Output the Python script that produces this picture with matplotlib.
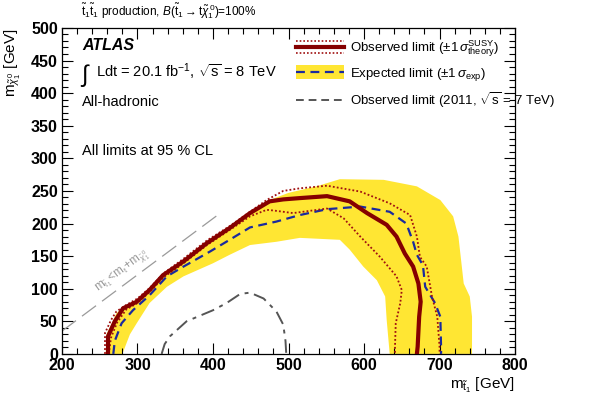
import matplotlib
matplotlib.use("Agg")
import matplotlib.pyplot as plt
from matplotlib.lines import Line2D
from matplotlib.patches import Rectangle
from matplotlib.legend_handler import HandlerBase
from matplotlib.ticker import MultipleLocator

plt.rcParams['font.family'] = ['Liberation Sans', 'DejaVu Sans']
plt.rcParams['mathtext.fontset'] = 'custom'
plt.rcParams['mathtext.rm'] = 'Liberation Sans'
plt.rcParams['mathtext.it'] = 'Liberation Sans:italic'
plt.rcParams['mathtext.bf'] = 'Liberation Sans:bold'

# ---------------- data ----------------
band_outer_x = [258, 259, 272, 282, 300, 317, 335, 361, 392, 422, 449, 475, 500, 537, 568,
                626, 670, 701, 718, 725, 729, 732, 740, 743, 743]
band_outer_y = [0, 30, 62, 73, 84, 103, 124, 145, 173, 196, 219, 236, 247, 257, 268,
                267, 257, 236, 211, 180, 139, 108, 88, 57, 0]
band_inner_x = [280, 290, 299, 316, 339, 361, 400, 422, 449, 484, 515, 568, 581, 599, 617,
                628, 630, 634]
band_inner_y = [0, 30, 47, 78, 103, 119, 139, 152, 167, 172, 178, 175, 160, 134, 113,
                88, 52, 0]

obs_x = [261, 261, 270, 281, 299, 316, 334, 361, 392, 422, 449, 475, 493, 515, 551, 581,
         604, 630, 643, 654, 665, 672, 675, 673, 671, 670]
obs_y = [0, 27, 50, 70, 80, 98, 121, 142, 170, 193, 216, 234, 237, 239, 242, 234,
         216, 198, 180, 154, 134, 108, 80, 57, 11, 0]

exp_x = [268, 270, 279, 294, 316, 339, 361, 396, 422, 449, 484, 515, 551, 595, 634, 656,
         665, 670, 678, 681, 694, 701, 702, 702]
exp_y = [0, 20, 47, 67, 90, 119, 134, 157, 175, 194, 203, 213, 222, 226, 218, 200,
         172, 152, 136, 103, 78, 57, 11, 0]

obs_up_x = [257, 257, 265, 272, 285, 300, 316, 335, 361, 392, 422, 449, 471, 493, 515, 551,
            595, 634, 661, 670, 674, 683, 690, 697, 700, 700]
obs_up_y = [0, 32, 52, 65, 75, 85, 101, 124, 146, 174, 196, 218, 236, 250, 254, 258,
            249, 231, 213, 180, 149, 134, 88, 57, 11, 0]

obs_dn_x = [262, 265, 273, 285, 300, 316, 335, 361, 392, 422, 449, 471, 480, 506, 551, 573,
            595, 621, 643, 650, 648, 642, 641, 641]
obs_dn_y = [0, 25, 48, 68, 78, 95, 118, 139, 167, 190, 211, 221, 220, 216, 223, 208,
            180, 149, 119, 98, 78, 47, 11, 0]

old_x = [332, 336, 343, 365, 400, 418, 436, 449, 467, 484, 493, 496, 497]
old_y = [0, 15, 27, 50, 67, 78, 92, 94, 85, 65, 45, 20, 0]

kin_x = [200, 412]
kin_y = [35, 218]

xticks = [200, 300, 400, 500, 600, 700, 800]
yticks = [0, 50, 100, 150, 200, 250, 300, 350, 400, 450, 500]

# ---------------- colours ----------------
c_obs = '#850000'
c_dot = '#A01010'
c_yel = '#FFE633'
c_blue = '#1A2A9E'
c_old = '#555555'
c_kin = '#9A9A9A'

CHI = r'{{\tilde{\chi}}^{\,0}_{1}}'

fig = plt.figure(figsize=(5.90, 3.99), dpi=100)
ax = fig.add_axes([0.105, 0.113, 0.768, 0.817])

ax.fill(band_outer_x + band_inner_x[::-1], band_outer_y + band_inner_y[::-1],
        color=c_yel, lw=0, zorder=1)
ax.plot(exp_x, exp_y, color=c_blue, lw=1.6, ls=(0, (4, 2.5)), zorder=3)
ax.plot(obs_up_x, obs_up_y, color=c_dot, lw=1.3, ls=(0, (1, 1.2)), zorder=4)
ax.plot(obs_dn_x, obs_dn_y, color=c_dot, lw=1.3, ls=(0, (1, 1.2)), zorder=4)
ax.plot(obs_x, obs_y, color=c_obs, lw=3.0, zorder=5)
ax.plot(old_x, old_y, color=c_old, lw=1.4, ls=(0, (7, 3, 2, 3)), zorder=2)
ax.plot(kin_x, kin_y, color=c_kin, lw=0.9, ls=(0, (14, 6)), zorder=2)

ax.text(281, 127, r'$\mathrm{m}_{\tilde{\mathrm{t}}_1}\!<\!\mathrm{m}_\mathrm{t}\!+\!\mathrm{m}_' + CHI + '$',
        rotation=36.6, rotation_mode='anchor', ha='center', va='center',
        color=c_kin, fontsize=8.5, zorder=2)

ax.set_xlim(200, 800)
ax.set_ylim(0, 500)
ax.set_xticks(xticks)
ax.set_yticks(yticks)
ax.xaxis.set_minor_locator(MultipleLocator(20))
ax.yaxis.set_minor_locator(MultipleLocator(10))
ax.tick_params(which='both', direction='in', top=True, right=True, width=0.8)
ax.tick_params(which='major', length=8)
ax.tick_params(which='minor', length=4)
for lab in ax.get_xticklabels() + ax.get_yticklabels():
    lab.set_fontweight('bold')
    lab.set_fontsize(11.5)
ax.tick_params(axis='x', pad=3)
ax.tick_params(axis='y', pad=3)
for s in ax.spines.values():
    s.set_linewidth(0.9)

ax.set_xlabel(r'$\mathrm{m}_{\tilde{\mathrm{t}}_1}$ [GeV]', loc='right', fontsize=11, labelpad=2)
ax.set_ylabel(r'$\mathrm{m}_' + CHI + '$ [GeV]', loc='top', fontsize=11, labelpad=6)

fig.text(0.137, 0.971, r'$\tilde{\mathrm{t}}_1\tilde{\mathrm{t}}_1$ production, $B(\tilde{\mathrm{t}}_1 \rightarrow \mathrm{t}' + CHI + ')$=100%',
         fontsize=8.5, ha='left', va='center')
ax.text(0.045, 0.945, 'ATLAS', transform=ax.transAxes, fontsize=11.5, fontweight='bold',
        style='italic', ha='left', va='center')
ax.text(0.040, 0.855, r'$\int$', transform=ax.transAxes, fontsize=17, ha='left', va='center',
        family=['DejaVu Sans'])
ax.text(0.075, 0.865, r'Ldt = 20.1 fb$^{-1}$, $\sqrt{\mathrm{s}}$ = 8 TeV', transform=ax.transAxes,
        fontsize=10.5, ha='left', va='center')
ax.text(0.045, 0.772, 'All-hadronic', transform=ax.transAxes, fontsize=10.5, ha='left', va='center')
ax.text(0.045, 0.623, 'All limits at 95 % CL', transform=ax.transAxes, fontsize=10.5,
        ha='left', va='center')


class HandlerObs(HandlerBase):
    def create_artists(self, legend, orig_handle, xdescent, ydescent, width, height, fontsize, trans):
        y0 = height / 2 - ydescent
        arts = []
        for dy, kw in [(height * 0.65, dict(color=c_dot, lw=1.2, ls=(0, (1, 1.2)))),
                       (0, dict(color=c_obs, lw=3.0)),
                       (-height * 0.65, dict(color=c_dot, lw=1.2, ls=(0, (1, 1.2))))]:
            arts.append(Line2D([-xdescent, -xdescent + width], [y0 + dy, y0 + dy],
                               transform=trans, **kw))
        return arts


class HandlerExp(HandlerBase):
    def create_artists(self, legend, orig_handle, xdescent, ydescent, width, height, fontsize, trans):
        r = Rectangle((-xdescent, -ydescent - height * 0.25), width, height * 1.5, facecolor=c_yel,
                      edgecolor='none', transform=trans)
        y0 = height / 2 - ydescent
        l = Line2D([-xdescent, -xdescent + width], [y0, y0], color=c_blue, lw=1.6,
                   ls=(0, (4, 2.5)), transform=trans)
        return [r, l]


h_obs = object()
h_exp = object()
h_old = Line2D([], [], color=c_old, lw=1.4, ls=(0, (4, 2.5)))
leg = ax.legend([h_obs, h_exp, h_old],
                [r'Observed limit ($\pm1\,\sigma^{\mathrm{SUSY}}_{\mathrm{theory}}$)',
                 r'Expected limit ($\pm1\,\sigma_{\mathrm{exp}}$)',
                 r'Observed limit (2011, $\sqrt{\mathrm{s}}$ = 7 TeV)'],
                handler_map={h_obs: HandlerObs(), h_exp: HandlerExp()},
                loc='upper left', bbox_to_anchor=(0.505, 0.985), frameon=False,
                fontsize=9.5, handlelength=3.6, handletextpad=0.5, labelspacing=0.55,
                borderaxespad=0)

fig.savefig('out.png', dpi=100)
